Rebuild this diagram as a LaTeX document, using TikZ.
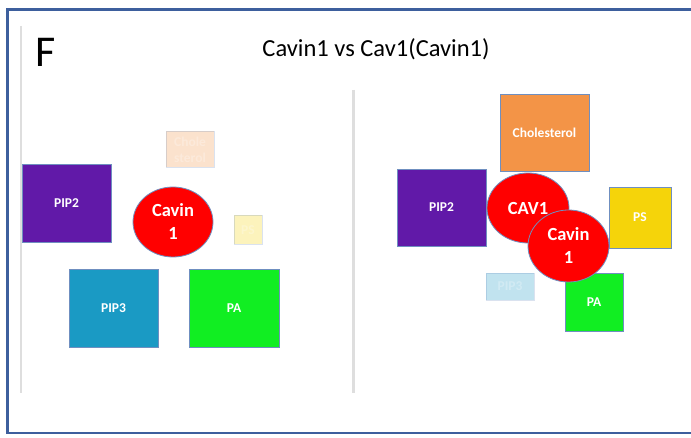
\documentclass[tikz,border=0pt]{standalone}
\usepackage{fontspec}
\setmainfont{Carlito}
\usetikzlibrary{shapes.geometric,shadows}

\definecolor{frameblue}{HTML}{3D5F9D}
\definecolor{edgeblue}{HTML}{6F8FC0}
\definecolor{pipTwo}{HTML}{6119A8}
\definecolor{pipThree}{HTML}{1A9AC4}
\definecolor{paGreen}{HTML}{11EE22}
\definecolor{cholOrange}{HTML}{F39447}
\definecolor{psYellow}{HTML}{F5D40A}
\definecolor{protRed}{HTML}{FF0000}

\tikzset{
  lipid/.style={rectangle, draw=edgeblue, line width=0.7pt, text=white,
    inner sep=0pt, align=center,
    font=\fontsize{13.5}{16}\selectfont\bfseries,
    drop shadow={shadow xshift=0.6pt, shadow yshift=-1.4pt, opacity=0.28}},
  faded/.style={rectangle, draw=edgeblue, line width=0.7pt, text=white,
    inner sep=0pt, align=center, fill opacity=0.27, draw opacity=0.25,
    font=\fontsize{13.5}{16}\selectfont\bfseries},
  protein/.style={ellipse, fill=protRed, draw=edgeblue, line width=0.8pt,
    text=white, inner sep=0pt, align=center,
    font=\fontsize{18.5}{23}\selectfont\bfseries},
  panelline/.style={line width=#1, draw=black!13},
}

\begin{document}
\begin{tikzpicture}[x=1pt, y=-1pt]
\useasboundingbox (0,0) rectangle (691,438);
\fill[white] (0,0) rectangle (691,438);

% outer frame, open to the right
\draw[frameblue, line width=2.6pt] (691,9.8) -- (7.3,9.8) -- (7.3,433) -- (691,433);

% panel dividers
\draw[panelline=1.5pt] (21,26) -- (21,393);
\draw[panelline=3pt] (353,90) -- (353,393);

% heading
\node (tag) at (46,52) {\fontsize{44}{48}\selectfont F};
\node (title) at (376,49) {\fontsize{24.5}{28}\selectfont Cavin1 vs Cav1(Cavin1)};

% left panel: Cavin1 alone
\node[faded, fill=cholOrange, minimum width=48pt, minimum height=36pt]
  (lchol) at (190,149.5) {Chole\\sterol};
\node[lipid, fill=pipTwo, minimum width=89pt, minimum height=78pt]
  (lpip2) at (66.5,203) {PIP2};
\node[faded, fill=psYellow, minimum width=28pt, minimum height=29pt]
  (lps) at (248,230) {PS};
\node[lipid, fill=pipThree, minimum width=89pt, minimum height=78pt]
  (lpip3) at (113.5,308) {PIP3};
\node[lipid, fill=paGreen, minimum width=90pt, minimum height=78pt]
  (lpa) at (234,308) {PA};
\node[protein, minimum width=80pt, minimum height=70pt]
  (lcavin) at (173,222) {Cavin\\1};

% right panel: Cav1 together with Cavin1
\node[lipid, fill=cholOrange, minimum width=89pt, minimum height=77pt]
  (rchol) at (544.5,132.5) {Cholesterol};
\node[lipid, fill=pipTwo, minimum width=89pt, minimum height=77pt]
  (rpip2) at (441.5,207.5) {PIP2};
\node[lipid, fill=psYellow, minimum width=62pt, minimum height=61pt]
  (rps) at (640,217.5) {PS};
\node[faded, fill=pipThree, minimum width=48pt, minimum height=27pt]
  (rpip3) at (510,286.5) {PIP3};
\node[lipid, fill=paGreen, minimum width=58pt, minimum height=58pt]
  (rpa) at (594,302) {PA};
\node[protein, minimum width=82pt, minimum height=70pt]
  (rcav1) at (528,208) {CAV1};
\node[protein, minimum width=81pt, minimum height=72pt]
  (rcavin) at (568.5,246) {Cavin\\1};
\end{tikzpicture}
\end{document}
